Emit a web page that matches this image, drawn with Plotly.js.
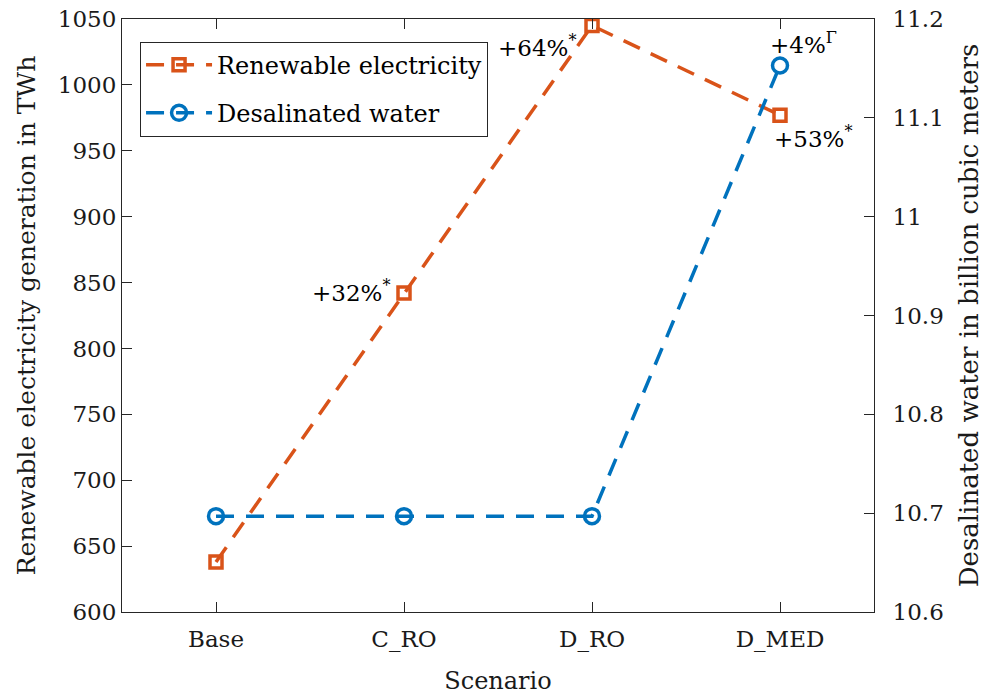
<!DOCTYPE html>
<html>
<head>
<meta charset="utf-8">
<script src="https://cdn.plot.ly/plotly-3.0.1.min.js"></script>
<style>html,body{margin:0;padding:0;background:#fff;}#chart{width:989px;height:695px;}</style>
</head>
<body>
<div id="chart"></div>
<script>
var scenarios = ['Base', 'C_RO', 'D_RO', 'D_MED'];
var renewable = [638, 842, 1045, 977];
var desalinated = [10.697, 10.697, 10.697, 11.153];
var renewableLabels = [null, '+32%<sup>*</sup>', '+64%<sup>*</sup>', '+53%<sup>*</sup>'];
var desalLabels = [null, null, null, '+4%<sup>Γ</sup>'];
var leftTicks = [600, 650, 700, 750, 800, 850, 900, 950, 1000, 1050];
var rightTicks = [10.6, 10.7, 10.8, 10.9, 11, 11.1, 11.2];
var rightTickText = ['10.6', '10.7', '10.8', '10.9', '11', '11.1', '11.2'];

var orange = '#D95319', blue = '#0072BD';
var FONT = 'DejaVu Serif, serif';

var traces = [
  {x: scenarios, y: renewable, name: 'Renewable electricity', type: 'scatter', mode: 'lines+markers',
   legendgroup: 'a',
   line: {color: orange, width: 3.5, dash: '18px,12px'},
   marker: {symbol: 'square-open', size: 12, color: orange, line: {color: orange, width: 3.5}},
   yaxis: 'y'},
  {x: scenarios, y: desalinated, name: 'Desalinated water', type: 'scatter', mode: 'lines+markers',
   legendgroup: 'b',
   line: {color: blue, width: 3.5, dash: '18px,12px'},
   marker: {symbol: 'circle-open', size: 15, color: blue, line: {color: blue, width: 3.5}},
   yaxis: 'y2'}
];

var annShift = {
  1: {xanchor: 'right', xshift: -12, yshift: 2},
  2: {xanchor: 'right', xshift: -14, yshift: -20},
  3: {xanchor: 'left', xshift: -8, yshift: -22}
};
var annotations = [];
renewableLabels.forEach(function (t, i) {
  if (!t) return;
  var s = annShift[i];
  annotations.push({x: scenarios[i], y: renewable[i], xref: 'x', yref: 'y', text: t, showarrow: false,
    xanchor: s.xanchor, yanchor: 'middle', xshift: s.xshift, yshift: s.yshift,
    font: {family: FONT, size: 23, color: '#000'}});
});
desalLabels.forEach(function (t, i) {
  if (!t) return;
  annotations.push({x: scenarios[i], y: desalinated[i], xref: 'x', yref: 'y2', text: t, showarrow: false,
    xanchor: 'left', yanchor: 'middle', xshift: -12, yshift: 22,
    font: {family: FONT, size: 23, color: '#000'}});
});

var axisCommon = {
  showgrid: false, zeroline: false, showline: true, linecolor: '#262626', linewidth: 1,
  ticks: 'inside', ticklen: 10, tickwidth: 1, tickcolor: '#262626',
  tickfont: {family: FONT, size: 23, color: '#1a1a1a'}
};

var layout = {
  width: 989, height: 695,
  margin: {l: 122, r: 115, t: 19, b: 83},
  paper_bgcolor: '#fff', plot_bgcolor: '#fff',
  font: {family: FONT, color: '#262626'},
  showlegend: true,
  legend: {x: 0.024, y: 0.962, xanchor: 'left', yanchor: 'top', bgcolor: '#fff',
    bordercolor: '#262626', borderwidth: 1, font: {family: FONT, size: 24, color: '#000'},
    tracegroupgap: 14, itemwidth: 66},
  xaxis: Object.assign({}, axisCommon, {
    type: 'category', range: [-0.5, 3.5], mirror: 'ticks', ticklabelstandoff: 6,
    title: {text: 'Scenario', font: {family: FONT, size: 24, color: '#1a1a1a'}, standoff: 30}
  }),
  yaxis: Object.assign({}, axisCommon, {
    range: [600, 1050], tickvals: leftTicks, ticktext: leftTicks.map(String),
    title: {text: 'Renewable electricity generation in TWh', font: {family: FONT, size: 25, color: '#1a1a1a'}, standoff: 15}
  }),
  yaxis2: Object.assign({}, axisCommon, {
    overlaying: 'y', side: 'right', range: [10.6, 11.2], tickvals: rightTicks, ticktext: rightTickText,
    ticklabelstandoff: 13,
    title: {text: 'Desalinated water in billion cubic meters', font: {family: FONT, size: 26, color: '#1a1a1a'}, standoff: 16}
  }),
  annotations: annotations
};

Plotly.newPlot('chart', traces, layout, {displayModeBar: false, staticPlot: true});
</script>
</body>
</html>
